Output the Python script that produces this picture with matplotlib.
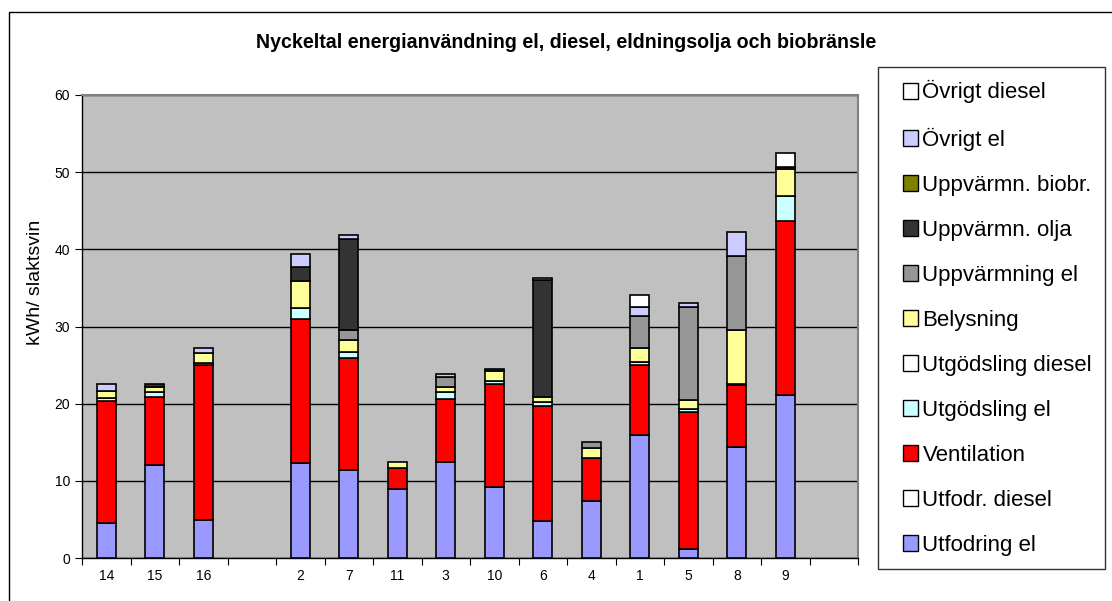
import numpy as np
import matplotlib
matplotlib.use('Agg')
import matplotlib.pyplot as plt
from matplotlib.patches import Rectangle, Patch
from matplotlib.legend_handler import HandlerPatch

plt.rcParams['font.family'] = ['Liberation Sans', 'DejaVu Sans']

# farms (empty slots are gaps in the original chart)
farms = ['14', '15', '16', '', '2', '7', '11', '3', '10', '6', '4', '1', '5', '8', '9', '']

# kWh per slaughter pig, stacked bottom -> top
utfodring_el = [4.5, 12.1, 4.9, 0, 12.3, 11.35, 8.9, 12.5, 9.15, 4.75, 7.4, 16.0, 1.2, 14.4, 21.1, 0]
utfodr_diesel = [0, 0, 0, 0, 0, 0, 0, 0, 0, 0, 0, 0, 0, 0, 0, 0]
ventilation = [15.9, 8.8, 20.1, 0, 18.7, 14.55, 2.75, 8.1, 13.45, 14.95, 5.5, 9.0, 17.7, 8.0, 22.6, 0]
utgodsling_el = [0.35, 0.55, 0.3, 0, 1.4, 0.8, 0, 0.85, 0.3, 0.5, 0, 0.4, 0.4, 0.2, 3.2, 0]
utgodsling_diesel = [0, 0, 0, 0, 0, 0, 0, 0, 0, 0, 0, 0, 0, 0, 0, 0]
belysning = [0.95, 0.75, 1.3, 0, 3.5, 1.5, 0.75, 0.75, 1.35, 0.7, 1.4, 1.8, 1.2, 7.0, 3.5, 0]
uppvarmning_el = [0, 0, 0, 0, 0, 1.3, 0, 1.2, 0, 0, 0.7, 4.2, 12.0, 9.5, 0, 0]
uppvarmn_olja = [0, 0.3, 0, 0, 1.8, 11.8, 0, 0, 0.25, 15.1, 0, 0, 0, 0, 0.3, 0]
uppvarmn_biobr = [0, 0, 0, 0, 0, 0, 0, 0, 0, 0, 0, 0, 0, 0, 0, 0]
ovrigt_el = [0.8, 0, 0.6, 0, 1.7, 0.5, 0, 0.4, 0, 0.25, 0, 1.1, 0.5, 3.2, 0, 0]
ovrigt_diesel = [0, 0, 0, 0, 0, 0, 0, 0, 0, 0, 0, 1.6, 0, 0, 1.8, 0]

series = [
    ('Utfodring el', utfodring_el, '#9999FF'),
    ('Utfodr. diesel', utfodr_diesel, '#FFFFFF'),
    ('Ventilation', ventilation, '#FF0000'),
    ('Utgödsling el', utgodsling_el, '#CCFFFF'),
    ('Utgödsling diesel', utgodsling_diesel, '#FFFFFF'),
    ('Belysning', belysning, '#FFFF99'),
    ('Uppvärmning el', uppvarmning_el, '#969696'),
    ('Uppvärmn. olja', uppvarmn_olja, '#333333'),
    ('Uppvärmn. biobr.', uppvarmn_biobr, '#808000'),
    ('Övrigt el', ovrigt_el, '#CCCCFF'),
    ('Övrigt diesel', ovrigt_diesel, '#FFFFFF'),
]


def square_right(legend, orig_handle, xdescent, ydescent, width, height, fontsize):
    # square marker pushed to the right end of the handle box (Excel-like indent)
    return Rectangle((-xdescent + width - height, -ydescent), height, height)


fig = plt.figure(figsize=(11.12, 6.01), dpi=100)
ax = fig.add_axes([82 / 1112, 1 - 558 / 601, (858 - 82) / 1112, (558 - 95) / 601])
ax.set_facecolor('#C0C0C0')

x = np.arange(len(farms))
bottom = np.zeros(len(farms))
handles = []
for name, vals, col in series:
    vals = np.array(vals, dtype=float)
    mask = vals > 0
    ax.bar(x[mask], vals[mask], bottom=bottom[mask], width=0.4, color=col,
           edgecolor='black', linewidth=1.2, zorder=3)
    bottom += vals
    handles.append(Patch(facecolor=col, edgecolor='black', linewidth=1.0, label=name))

ax.set_xlim(-0.5, len(farms) - 0.5)
ax.set_ylim(0, 60)
ax.set_yticks(range(0, 61, 10))
ax.yaxis.grid(True, color='black', linewidth=1.0, zorder=1)
ax.set_axisbelow(True)
ax.tick_params(axis='y', direction='out', length=5, labelsize=10, color='black')

ax.set_xticks(np.arange(-0.5, len(farms), 1.0))
ax.set_xticklabels([])
ax.set_xticks(x, minor=True)
ax.set_xticklabels(farms, minor=True)
ax.tick_params(axis='x', which='major', direction='out', length=5)
ax.tick_params(axis='x', which='minor', length=0, labelsize=10, pad=8)

for s in ['top', 'right']:
    ax.spines[s].set_color('#808080')
    ax.spines[s].set_linewidth(1.5)
for s in ['left', 'bottom']:
    ax.spines[s].set_color('black')
    ax.spines[s].set_linewidth(1.0)

fig.text(566 / 1112, 1 - 42 / 601,
         'Nyckeltal energianvändning el, diesel, eldningsolja och biobränsle',
         ha='center', va='center', fontsize=14.1, fontweight='bold')
fig.text(36 / 1112, 1 - 282 / 601, 'kWh/ slaktsvin', rotation=90,
         ha='center', va='center', fontsize=14)

leg = fig.legend(handles=handles[::-1], loc='upper left',
                 bbox_to_anchor=(878 / 1112, 1 - 67 / 601),
                 handler_map={Patch: HandlerPatch(patch_func=square_right)},
                 fontsize=16, frameon=True, fancybox=False, borderpad=0.6,
                 labelspacing=1.08, handlelength=1.22, handleheight=0.72,
                 handletextpad=0.18, borderaxespad=0)
leg.get_frame().set_edgecolor('black')
leg.get_frame().set_linewidth(1.0)

# outer chart border (cut off at right and bottom in the original)
fig.patches.append(Rectangle((9 / 1112, -0.05), 1.2, 1 - 12 / 601 + 0.05,
                             transform=fig.transFigure, fill=False,
                             edgecolor='black', linewidth=1.0))

fig.savefig('out.png', dpi=100)
